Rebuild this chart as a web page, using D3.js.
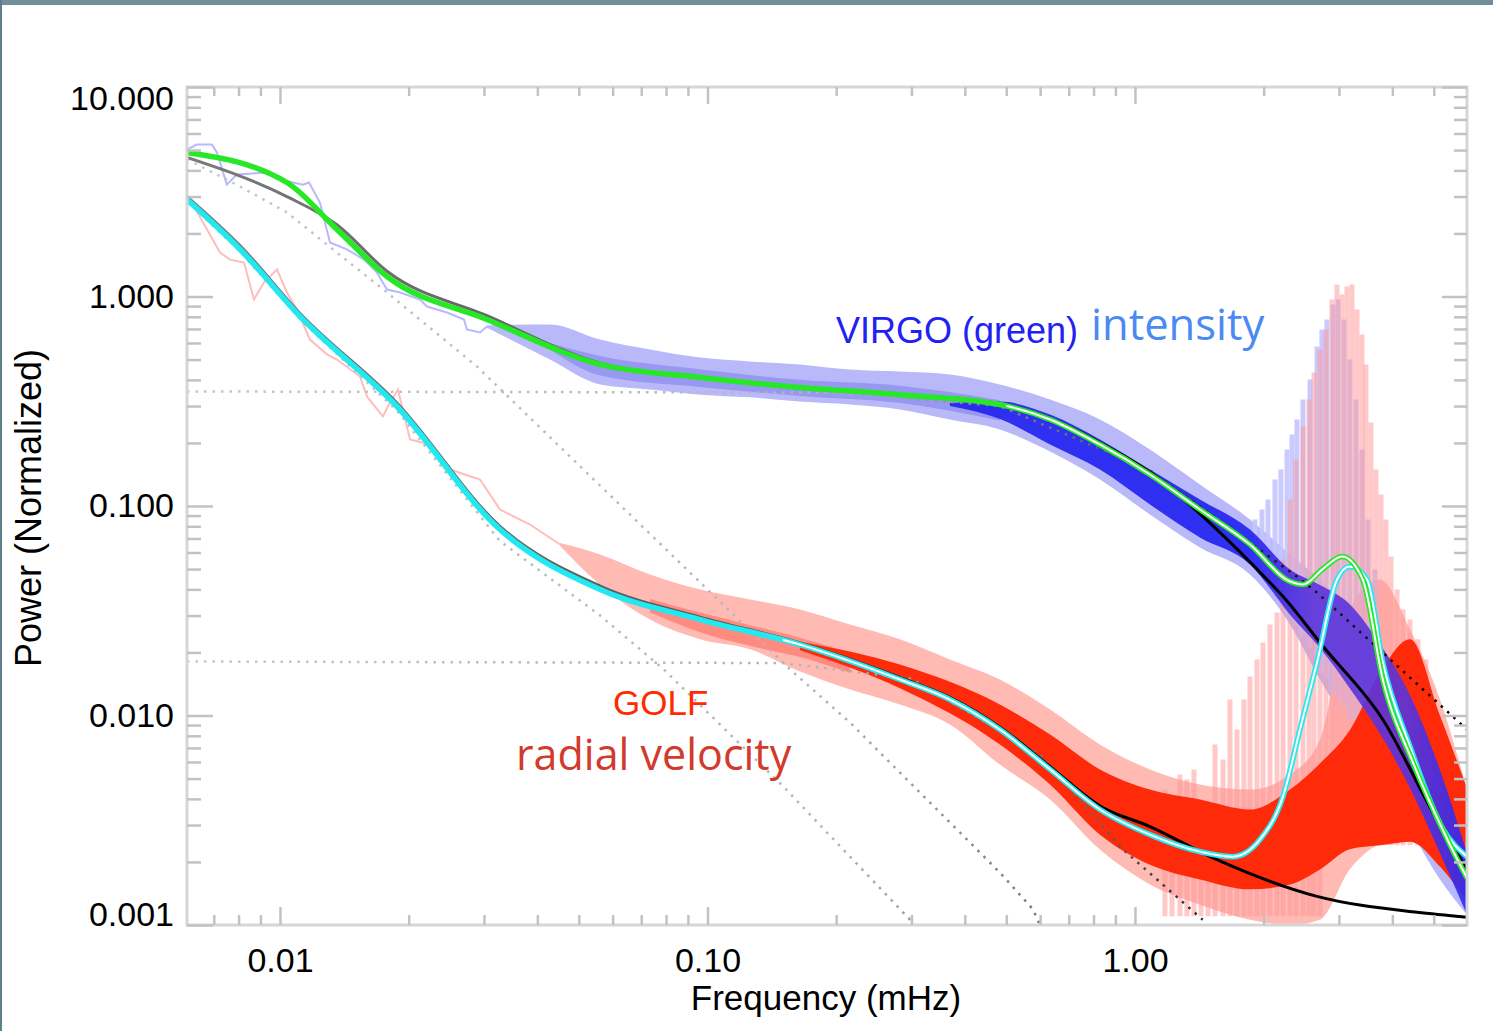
<!DOCTYPE html>
<html>
<head>
<meta charset="utf-8">
<script src="https://cdn.jsdelivr.net/npm/d3@7"></script>
<style>
html, body { margin: 0; padding: 0; background: #fff; }
svg { display: block; }
</style>
</head>
<body>
<div id="chart"></div>
<script>
// ---- values (frequency in mHz, power normalized) ----

// low frequency part of the VIRGO spectrum (a single wiggly trace)
var virgoLowF = [0.00606,0.00639,0.00693,0.00712,0.00751,0.00793,0.00932,0.01,0.01132,0.01169,0.0124,0.01309,0.01434,0.01572,0.01686,0.0178,0.01909,0.02126,0.02207,0.02458,0.02694,0.02738,0.02937,0.0305];
var virgoLowP = [5.03,5.31,5.31,4.87,3.42,3.82,3.91,3.62,3.42,3.5,2.81,1.81,1.68,1.5,1.3,1.08,1.045,0.968,0.896,0.839,0.777,0.696,0.673,0.719];

// low frequency part of the GOLF spectrum
var golfLowF = [0.00606,0.00616,0.00675,0.00724,0.00764,0.00824,0.00869,0.00917,0.00984,0.01038,0.01096,0.01175,0.01288,0.01359,0.01539,0.01598,0.01741,0.01808,0.01888,0.02014,0.02243,0.025,0.02937,0.0327,0.03844,0.0452];
var golfLowP = [2.95,2.9,2.09,1.62,1.5,1.453,0.968,1.166,1.346,1.045,0.867,0.623,0.529,0.5,0.415,0.333,0.2675,0.312,0.36,0.2077,0.1966,0.1493,0.1338,0.0962,0.0816,0.0655];

// VIRGO scatter: light envelope, denser middle, dense core
var virgoBandF = [0.0305,0.0428,0.0561,0.0734,0.0961,0.1257,0.1646,0.2154,0.282,0.369,0.483,0.633,0.828,1.084,1.419,1.858,2.305,2.709,3.18,3.74,4.40,5.17,5.98];
var virgoHi = [0.73,0.735,0.623,0.558,0.511,0.49,0.474,0.448,0.438,0.424,0.38,0.322,0.2588,0.186,0.1267,0.0862,0.0587,0.0446,0.0321,0.0231,0.0133,0.00617,0.00286];
var virgoLo = [0.71,0.5,0.38,0.36,0.34,0.33,0.315,0.305,0.289,0.2588,0.232,0.182,0.1338,0.0911,0.0633,0.0471,0.0272,0.01485,0.00857,0.00495,0.00286,0.00165,0.00112];
var virgoMidF = [0.0428,0.0561,0.0961,0.1646,0.282,0.369,0.483];
var virgoMidHi = [0.6,0.52,0.45,0.4,0.375,0.35,0.32];
var virgoMidLo = [0.56,0.42,0.37,0.335,0.31,0.285,0.255];
var virgoDenseF = [0.369,0.483,0.633,0.828,1.084,1.419,1.858,2.305,2.709,3.18,3.74,4.40,5.17,5.98];
var virgoDenseHi = [0.31,0.315,0.273,0.2077,0.1493,0.1074,0.0772,0.0498,0.042,0.034,0.022,0.0125,0.0055,0.0022];
var virgoDenseLo = [0.30,0.26,0.1966,0.1493,0.1017,0.0707,0.0526,0.0303,0.021,0.0135,0.0082,0.0045,0.0022,0.00112];

// GOLF scatter: light envelope, denser middle, dense core
var golfBandF = [0.0452,0.0561,0.0734,0.0961,0.1257,0.1646,0.2154,0.282,0.369,0.483,0.633,0.828,1.084,1.419,1.858,2.305,2.709,3.18,3.74,4.40,5.17,5.98];
var golfHi = [0.0665,0.0587,0.0471,0.0399,0.0358,0.0321,0.0272,0.0231,0.0185,0.01485,0.01068,0.00727,0.00553,0.00468,0.00443,0.00523,0.00768,0.0321,0.0446,0.0257,0.01192,0.00443];
var golfLo = [0.0645,0.042,0.0287,0.0231,0.0207,0.0162,0.0133,0.01128,0.00906,0.00583,0.00397,0.00229,0.00156,0.00125,0.00106,0.001,0.00106,0.00184,0.00242,0.00256,0.00205,0.00125];
var golfMidF = [0.0734,0.0961,0.1257,0.1646,0.2154];
var golfMidHi = [0.036,0.031,0.027,0.0235,0.02];
var golfMidLo = [0.031,0.025,0.0215,0.019,0.016];
var golfDenseF = [0.1646,0.282,0.483,0.633,0.828,1.084,1.419,1.858,2.305,2.709,3.18,3.74,4.40,5.17,5.98];
var golfDenseHi = [0.0225,0.0175,0.01128,0.00811,0.00553,0.00443,0.00397,0.00356,0.00443,0.0059,0.0085,0.016,0.0231,0.01,0.0045];
var golfDenseLo = [0.0205,0.0135,0.00727,0.00468,0.0027,0.00194,0.00165,0.00148,0.00156,0.00184,0.0023,0.0024,0.0025,0.0019,0.0013];

// p-mode peaks
var virgoSpikeF = [1.909,1.982,2.047,2.126,2.195,2.268,2.33,2.393,2.472,2.567,2.666,2.737,2.812,2.905,2.985,3.083,3.18,3.289,3.396,3.508,3.643];
var virgoSpikeTop = [0.0862,0.0962,0.1074,0.1338,0.1493,0.186,0.2195,0.2588,0.322,0.402,0.577,0.696,0.777,0.916,0.968,0.777,0.5,0.322,0.186,0.0862,0.0498];
var virgoSpikeBase = [0.0498,0.046,0.042,0.038,0.035,0.032,0.03,0.027,0.024,0.021,0.018,0.016,0.015,0.013,0.012,0.011,0.0096,0.0085,0.0075,0.0066,0.0058];
var golfSpikeF = [1.175,1.221,1.274,1.323,1.374,1.427,1.482,1.539,1.607,1.668,1.732,1.799,1.858,1.929,1.993,2.069,2.149,2.22,2.305,2.381,2.472,2.553,2.623,2.709,2.798,2.89,2.969,3.05,3.133,3.218,3.306,3.396,3.47,3.565,3.662,3.762,3.865,3.97,4.102,4.237,4.4,4.592,4.795,5.006];
var golfSpikeTop = [0.00443,0.00397,0.00523,0.00495,0.00553,0.00397,0.00368,0.00727,0.00617,0.01192,0.00857,0.01192,0.01535,0.0185,0.0223,0.0272,0.031,0.0555,0.1074,0.1667,0.2395,0.322,0.434,0.558,0.696,0.968,1.141,1.022,1.116,1.141,0.867,0.659,0.474,0.2503,0.1493,0.1135,0.0862,0.0574,0.0399,0.0321,0.0287,0.0231,0.0185,0.01192];
var golfSpikeBase = [0.0011,0.0011,0.0011,0.0011,0.0011,0.0011,0.0011,0.0011,0.0011,0.0011,0.0011,0.0011,0.0011,0.0011,0.0011,0.0011,0.0011,0.0011,0.0011,0.0011,0.0011,0.0011,0.0011,0.0011,0.0024,0.0024,0.0024,0.0024,0.0024,0.0024,0.0024,0.0024,0.0024,0.0024,0.0024,0.0024,0.0024,0.0024,0.0024,0.0024,0.0024,0.0024,0.0024,0.0024];

// fitted models
var virgoFitF = [0.00606,0.01038,0.01359,0.0178,0.0305,0.0561,0.0961,0.1646,0.282,0.483,0.633,0.828,1.084,1.419,1.858,2.305,2.472,2.75,3.05,3.41,3.80,4.47,5.46,5.98];
var virgoFitP = [4.87,3.5,2.09,1.246,0.777,0.474,0.411,0.368,0.34,0.305,0.2588,0.1966,0.1414,0.0962,0.0655,0.0436,0.0422,0.05,0.0574,0.0446,0.01485,0.00597,0.00241,0.001677];
var virgoBgF = [0.00606,0.01038,0.01359,0.0178,0.0305,0.0561,0.0961,0.1646,0.282,0.483,0.633,0.828,1.084,1.555,2.036,2.22,2.753,3.80,4.98,5.98];
var virgoBgP = [4.61,3.0,2.2,1.32,0.81,0.48,0.41,0.368,0.342,0.307,0.262,0.201,0.145,0.0772,0.0446,0.037,0.0214,0.00957,0.00344,0.00184];
var golfFitF = [0.00606,0.00806,0.01114,0.01878,0.0327,0.0561,0.0961,0.1646,0.282,0.369,0.483,0.633,0.828,1.084,1.419,1.695,1.961,2.22,2.432,2.666,2.97,3.18,3.49,3.80,4.40,5.26,5.98];
var golfFitP = [2.9,1.68,0.803,0.2985,0.0772,0.0399,0.0287,0.0218,0.01485,0.01192,0.00857,0.00553,0.00356,0.0027,0.00224,0.00212,0.00256,0.00411,0.00857,0.0179,0.0446,0.0514,0.0446,0.0179,0.00711,0.00286,0.00212];
var golfBgF = [0.00606,0.00806,0.01114,0.01878,0.0327,0.0561,0.0961,0.1646,0.282,0.369,0.483,0.633,0.828,1.084,1.555,2.666,4.57,5.98];
var golfBgP = [3.0,1.75,0.83,0.31,0.08,0.0415,0.0295,0.0222,0.0152,0.0122,0.0088,0.0057,0.0037,0.00295,0.00205,0.00137,0.00115,0.00109];

// background components (dotted)
var virgoComp1F = [0.00606,0.00675,0.00806,0.01038,0.01359,0.0178,0.0289,0.156,0.2154,0.483,0.577,0.5995];
var virgoComp1P = [4.51,4.04,3.35,2.52,1.62,1.045,0.463,0.0166,0.00926,0.00178,0.00119,0.001];
var golfComp1F = [0.00606,0.00806,0.01114,0.01878,0.0327,0.0561,0.079,0.15,0.306];
var golfComp1P = [2.85,1.64,0.78,0.285,0.068,0.03,0.0166,0.00461,0.001];
var virgoComp2F = [0.00606,0.2,0.483,1.084,2.39,2.666,5.98];
var virgoComp2P = [0.352,0.348,0.30,0.148,0.0461,0.0386,0.00857];
var golfComp2F = [0.00606,0.15,0.3,0.6,0.938,1.44];
var golfComp2P = [0.0181,0.0178,0.015,0.0065,0.00229,0.00106];

// axis ticks
var xMajor = [0.01, 0.1, 1];
var yMajor = [0.001, 0.01, 0.1, 1, 10];

// ---- drawing ----
var W = 1493, H = 1031;
var L = 187, R = 1467, T = 87, B = 925;

var x = d3.scaleLog().domain([0.00606, 5.98]).range([L, R]);
var y = d3.scaleLog().domain([0.001, 10]).range([B, T]);

var svg = d3.select("#chart").append("svg").attr("width", W).attr("height", H);
var defs = svg.append("defs");

// frame bits of the screenshot
svg.append("rect").attr("x", 0).attr("y", 0).attr("width", W).attr("height", 5).attr("fill", "#718f99");
svg.append("rect").attr("x", 0).attr("y", 0).attr("width", 2).attr("height", H).attr("fill", "#5f7f8a");

defs.append("clipPath").attr("id", "plotclip").append("rect")
    .attr("x", L).attr("y", T).attr("width", R - L).attr("height", B - T);

// horizontal colour ramps
function ramp(id, stops) {
    var g = defs.append("linearGradient").attr("id", id).attr("gradientUnits", "userSpaceOnUse")
        .attr("x1", L).attr("x2", R).attr("y1", 0).attr("y2", 0);
    stops.forEach(function(s) { g.append("stop").attr("offset", s[0]).attr("stop-color", s[1]); });
}
ramp("bggrad", [["0%", "#7a7a7a"], ["45%", "#555"], ["65%", "#000"], ["100%", "#000"]]);
ramp("dotgrad", [["0%", "#c6c6c6"], ["50%", "#b4b4b4"], ["70%", "#6a6a6a"], ["80%", "#222"], ["100%", "#000"]]);
ramp("vdense", [["0%", "#2020f0"], ["83%", "#2020f0"], ["88%", "#5a34dc"], ["95%", "#5a34dc"], ["100%", "#2a2af5"]]);

var plot = svg.append("g").attr("clip-path", "url(#plotclip)");

function pts(f, p) { return d3.zip(f, p); }
function band(f, hi, lo) { return f.map(function(d, i) { return [d, hi[i], lo[i]]; }); }

var line = d3.line().x(function(d) { return x(d[0]); }).y(function(d) { return y(d[1]); });
var smooth = d3.line().x(function(d) { return x(d[0]); }).y(function(d) { return y(d[1]); }).curve(d3.curveMonotoneX);
var area = d3.area().x(function(d) { return x(d[0]); })
    .y0(function(d) { return y(d[2]); }).y1(function(d) { return y(d[1]); }).curve(d3.curveMonotoneX);

// light scatter envelopes
plot.append("path").attr("d", area(band(virgoBandF, virgoHi, virgoLo)))
    .attr("fill", "#b9b9fa");
plot.append("path").attr("d", area(band(virgoMidF, virgoMidHi, virgoMidLo)))
    .attr("fill", "#9898f2");
plot.append("path").attr("d", line(pts(virgoLowF, virgoLowP)))
    .attr("fill", "none").attr("stroke", "#b8b8ff").attr("stroke-width", 2);
plot.append("path").attr("d", area(band(golfBandF, golfHi, golfLo)))
    .attr("fill", "#ffbab4");
plot.append("path").attr("d", area(band(golfMidF, golfMidHi, golfMidLo)))
    .attr("fill", "#ff8a80");
plot.append("path").attr("d", line(pts(golfLowF, golfLowP)))
    .attr("fill", "none").attr("stroke", "#ffbcbc").attr("stroke-width", 2);

// p-mode peaks (under the dense cores)
plot.selectAll(".vspike").data(d3.range(virgoSpikeF.length)).enter().append("line")
    .attr("x1", function(i) { return x(virgoSpikeF[i]); }).attr("x2", function(i) { return x(virgoSpikeF[i]); })
    .attr("y1", function(i) { return y(virgoSpikeTop[i]); }).attr("y2", function(i) { return y(virgoSpikeBase[i]); })
    .attr("stroke", "#c4c4ff").attr("stroke-opacity", 0.9).attr("stroke-width", 5);
plot.selectAll(".gspike").data(d3.range(golfSpikeF.length)).enter().append("line")
    .attr("x1", function(i) { return x(golfSpikeF[i]); }).attr("x2", function(i) { return x(golfSpikeF[i]); })
    .attr("y1", function(i) { return y(golfSpikeTop[i]); }).attr("y2", function(i) { return y(golfSpikeBase[i]); })
    .attr("stroke", "#ff9494").attr("stroke-opacity", 0.5).attr("stroke-width", 5);

// dense cores
plot.append("path").attr("d", area(band(golfDenseF, golfDenseHi, golfDenseLo)))
    .attr("fill", "#ff2a0a");
plot.append("path").attr("d", area(band(virgoDenseF, virgoDenseHi, virgoDenseLo)))
    .attr("fill", "url(#vdense)").attr("opacity", 0.9);

// dotted components
function dotted(f, p) {
    plot.append("path").attr("d", line(pts(f, p))).attr("fill", "none")
        .attr("stroke", "url(#dotgrad)").attr("stroke-width", 2.5).attr("stroke-dasharray", "2.5,6");
}
dotted(virgoComp1F, virgoComp1P);
dotted(golfComp1F, golfComp1P);
dotted(virgoComp2F, virgoComp2P);
dotted(golfComp2F, golfComp2P);

// background fits: gray at low frequency, black further right
plot.append("path").attr("d", smooth(pts(golfBgF, golfBgP))).attr("fill", "none")
    .attr("stroke", "url(#bggrad)").attr("stroke-width", 3);
plot.append("path").attr("d", smooth(pts(virgoBgF, virgoBgP))).attr("fill", "none")
    .attr("stroke", "url(#bggrad)").attr("stroke-width", 3);

// full fits, with a white core on the right side
defs.append("clipPath").attr("id", "golfcore").append("rect")
    .attr("x", x(0.15)).attr("y", T).attr("width", R - x(0.15)).attr("height", B - T);
defs.append("clipPath").attr("id", "virgocore").append("rect")
    .attr("x", x(0.5)).attr("y", T).attr("width", R - x(0.5)).attr("height", B - T);

plot.append("path").attr("d", smooth(pts(golfFitF, golfFitP))).attr("fill", "none")
    .attr("stroke", "#22e8f0").attr("stroke-width", 5.5);
plot.append("path").attr("d", smooth(pts(golfFitF, golfFitP))).attr("fill", "none")
    .attr("clip-path", "url(#golfcore)").attr("stroke", "#fff").attr("stroke-width", 2);
plot.append("path").attr("d", smooth(pts(virgoFitF, virgoFitP))).attr("fill", "none")
    .attr("stroke", "#26e826").attr("stroke-width", 5.5);
plot.append("path").attr("d", smooth(pts(virgoFitF, virgoFitP))).attr("fill", "none")
    .attr("clip-path", "url(#virgocore)").attr("stroke", "#fff").attr("stroke-width", 2);

// axes box
svg.append("rect").attr("x", L).attr("y", T).attr("width", R - L).attr("height", B - T)
    .attr("fill", "none").attr("stroke", "#d6d6d6").attr("stroke-width", 3);

function ticksOf(majors) {
    var out = [];
    majors.forEach(function(m) { for (var k = 2; k < 10; k++) out.push(m * k); });
    return out;
}
var yMinor = ticksOf(yMajor.slice(0, 4));
var xMinor = ticksOf([0.001, 0.01, 0.1, 1]).filter(function(v) { return v >= 0.00606 && v <= 5.98; });

function styleAxis(g) {
    g.select(".domain").remove();
    g.selectAll(".tick line").attr("stroke", "#c2c2c2").attr("stroke-width", 2.5);
    g.selectAll(".tick text").attr("font-family", "Liberation Sans, Arial, sans-serif")
        .attr("font-size", 34).attr("fill", "#000");
}

// bottom
svg.append("g").attr("transform", "translate(0," + B + ")")
    .call(d3.axisBottom(x).tickValues(xMinor).tickSize(-10).tickFormat(""))
    .call(styleAxis);
svg.append("g").attr("transform", "translate(0," + B + ")")
    .call(d3.axisBottom(x).tickValues(xMajor).tickSize(-18).tickPadding(23).tickFormat(d3.format(".2f")))
    .call(styleAxis);
// top
svg.append("g").attr("transform", "translate(0," + T + ")")
    .call(d3.axisTop(x).tickValues(xMinor).tickSize(-9).tickFormat(""))
    .call(styleAxis);
svg.append("g").attr("transform", "translate(0," + T + ")")
    .call(d3.axisTop(x).tickValues(xMajor).tickSize(-17).tickFormat(""))
    .call(styleAxis);
// left
svg.append("g").attr("transform", "translate(" + L + ",0)")
    .call(d3.axisLeft(y).tickValues(yMinor).tickSize(-14).tickFormat(""))
    .call(styleAxis);
var yAx = svg.append("g").attr("transform", "translate(" + L + ",0)")
    .call(d3.axisLeft(y).tickValues(yMajor).tickSize(-26).tickPadding(13).tickFormat(d3.format(".3f")))
    .call(styleAxis);
// end labels sit inside the frame
yAx.selectAll(".tick text").attr("dy", function(d) { return d === 10 ? "0.65em" : (d === 0.001 ? "0.02em" : "0.32em"); });
// right
svg.append("g").attr("transform", "translate(" + R + ",0)")
    .call(d3.axisRight(y).tickValues(yMinor).tickSize(-13).tickFormat(""))
    .call(styleAxis);
svg.append("g").attr("transform", "translate(" + R + ",0)")
    .call(d3.axisRight(y).tickValues(yMajor).tickSize(-25).tickFormat(""))
    .call(styleAxis);

// axis titles
svg.append("text").attr("x", 826).attr("y", 1010).attr("text-anchor", "middle")
    .attr("font-family", "Liberation Sans, Arial, sans-serif").attr("font-size", 35)
    .text("Frequency (mHz)");
svg.append("text").attr("transform", "translate(41,508) rotate(-90)").attr("text-anchor", "middle")
    .attr("font-family", "Liberation Sans, Arial, sans-serif").attr("font-size", 36)
    .text("Power (Normalized)");

// annotations
svg.append("text").attr("x", 836).attr("y", 343).attr("font-family", "Liberation Sans, Arial, sans-serif")
    .attr("font-size", 36).attr("fill", "#2121f2").text("VIRGO (green)");
svg.append("text").attr("x", 1091).attr("y", 340).attr("font-family", "Open Sans, sans-serif")
    .attr("font-size", 43.5).attr("fill", "#4b89f3").text("intensity");
svg.append("text").attr("x", 613).attr("y", 715).attr("font-family", "Liberation Sans, Arial, sans-serif")
    .attr("font-size", 35).attr("fill", "#ff2a00").text("GOLF");
svg.append("text").attr("x", 516).attr("y", 770).attr("font-family", "Open Sans, sans-serif")
    .attr("font-size", 43).attr("fill", "#d3392c").text("radial velocity");
</script>
</body>
</html>
